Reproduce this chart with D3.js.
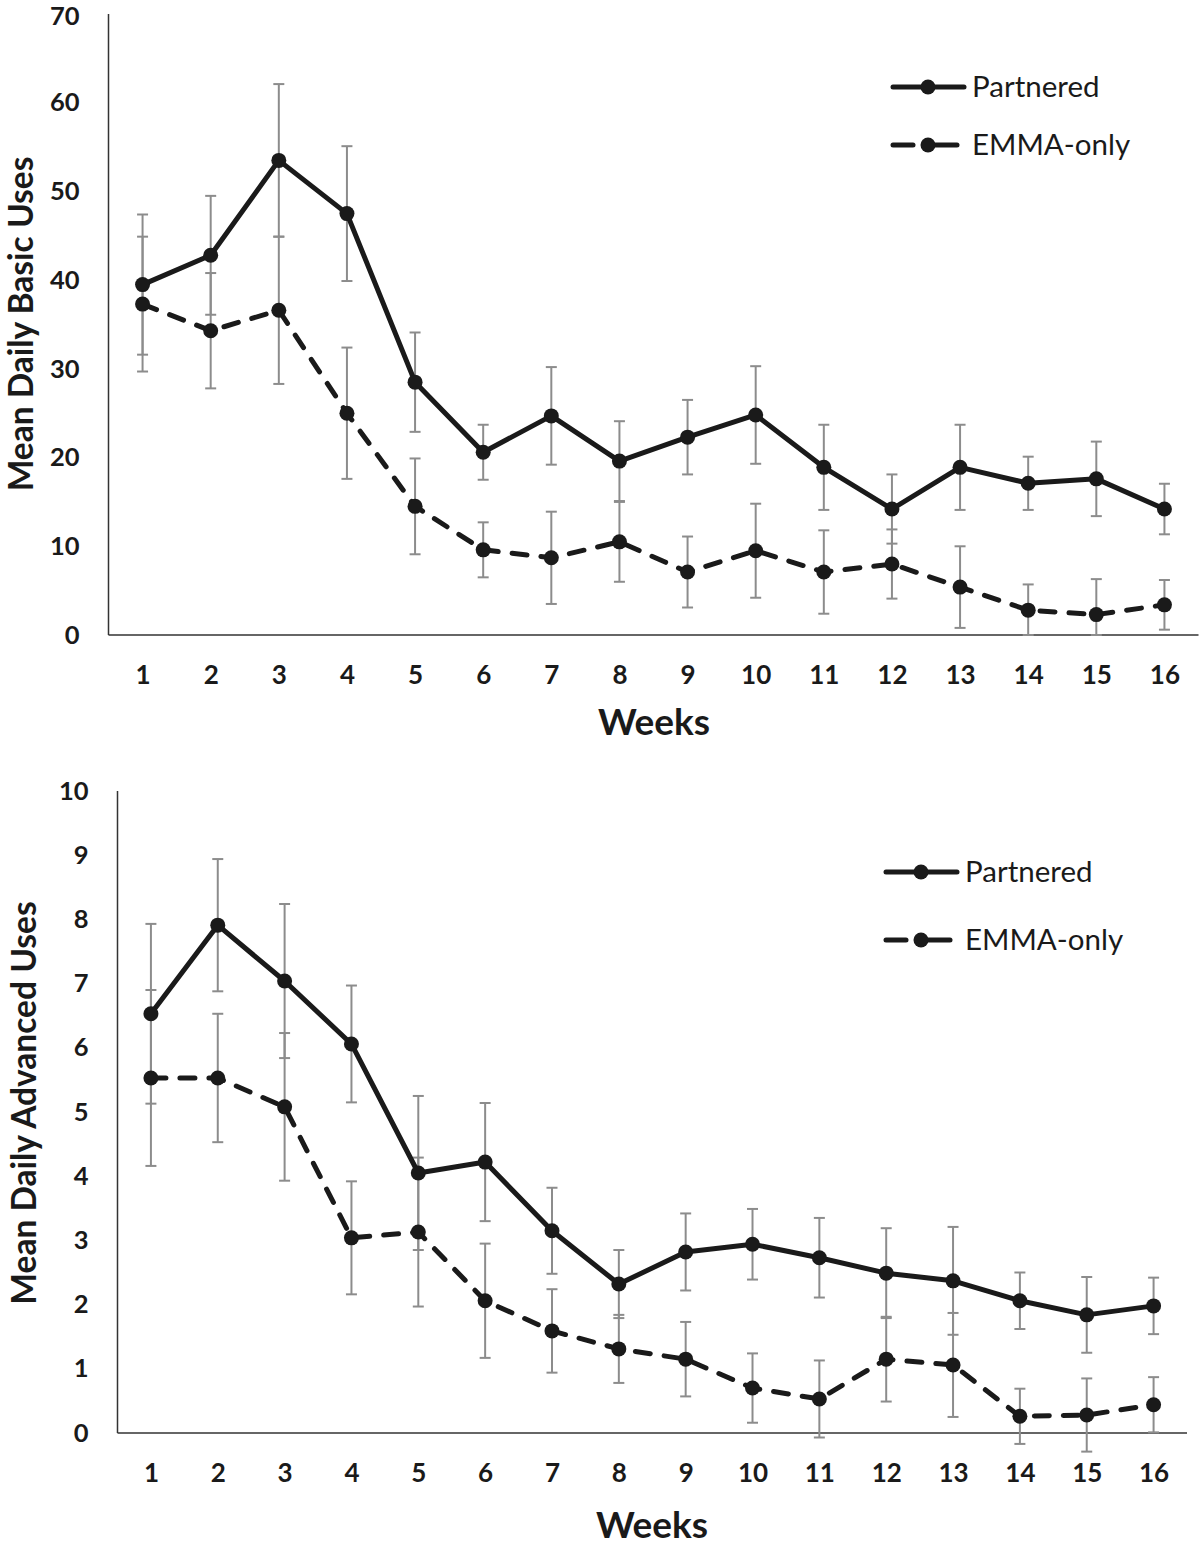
<!DOCTYPE html>
<html><head><meta charset="utf-8">
<script src="https://cdn.jsdelivr.net/npm/d3@7/dist/d3.min.js"></script>
<style>body{margin:0;background:#fff}svg{display:block}</style>
</head><body>
<svg id="c" width="1200" height="1546"></svg>
<script>
const weeks = ["1","2","3","4","5","6","7","8","9","10","11","12","13","14","15","16"];
const seriesNames = ["Partnered","EMMA-only"];

// Panel A: Mean Daily Basic Uses
const basicTicks = [0,10,20,30,40,50,60,70];
const basicPartnered = [39.5,42.8,53.5,47.5,28.5,20.6,24.7,19.6,22.3,24.8,18.9,14.2,18.9,17.1,17.6,14.2];
const basicPartneredErr = [7.9,6.7,8.6,7.6,5.6,3.1,5.5,4.5,4.2,5.5,4.8,3.9,4.8,3.0,4.2,2.85];
const basicEmma = [37.3,34.3,36.6,25.0,14.5,9.6,8.7,10.5,7.1,9.5,7.1,8.0,5.4,2.8,2.3,3.4];
const basicEmmaErr = [7.6,6.5,8.3,7.4,5.4,3.1,5.2,4.5,4.0,5.3,4.7,3.9,4.6,2.9,4.0,2.8];

// Panel B: Mean Daily Advanced Uses
const advTicks = [0,1,2,3,4,5,6,7,8,9,10];
const advPartnered = [6.53,7.91,7.04,6.06,4.05,4.22,3.15,2.32,2.82,2.94,2.73,2.49,2.37,2.06,1.84,1.98];
const advPartneredErr = [1.4,1.03,1.2,0.91,1.2,0.92,0.67,0.53,0.6,0.55,0.62,0.7,0.84,0.44,0.59,0.44];
const advEmma = [5.53,5.53,5.08,3.04,3.13,2.06,1.59,1.31,1.15,0.70,0.53,1.15,1.06,0.26,0.28,0.44];
const advEmmaErr = [1.37,1.0,1.15,0.88,1.16,0.89,0.65,0.53,0.58,0.54,0.6,0.66,0.81,0.43,0.57,0.43];

const svg = d3.select("#c");
const FONT = "Lato, 'Open Sans', sans-serif";
const INK = "#1a1a1a";

function panel(cfg){
  const g = svg.append("g");
  const x = d3.scalePoint().domain(weeks).range([cfg.x0, cfg.x1]).padding(0.5);
  const y = d3.scaleLinear().domain([0, cfg.ymax]).range([cfg.yb, cfg.yt]);

  // y axis
  const ya = g.append("g").attr("transform", `translate(${cfg.x0},0)`)
    .call(d3.axisLeft(y).tickValues(cfg.ticks).tickSize(0).tickPadding(29).tickFormat(d3.format("d")));
  ya.select(".domain").attr("stroke", "#333").attr("stroke-width", 1.5).attr("d", `M0,${cfg.yt}V${cfg.yb}`);
  ya.selectAll("text").attr("font-family", FONT).attr("font-weight", 700).attr("font-size", 25.5).attr("fill", INK)
    .attr("dy", d => (d === cfg.ymax && cfg.yt < 20) ? "0.42em" : "0.32em");

  // x axis
  const xa = g.append("g").attr("transform", `translate(0,${cfg.yb})`)
    .call(d3.axisBottom(x).tickSize(0).tickPadding(31));
  xa.select(".domain").attr("stroke", "#333").attr("stroke-width", 1.5).attr("d", `M${cfg.x0},0H${cfg.x1}`);
  xa.selectAll("text").attr("font-family", FONT).attr("font-weight", 700).attr("font-size", 26).attr("fill", INK);

  g.append("text").attr("x", cfg.wx).attr("y", cfg.wy).attr("text-anchor", "middle")
    .attr("font-family", FONT).attr("font-weight", 700).attr("font-size", 37).attr("fill", INK).text("Weeks");
  g.append("text").attr("transform", `translate(${cfg.tx},${cfg.ty}) rotate(-90)`).attr("text-anchor", "middle")
    .attr("font-family", FONT).attr("font-weight", 700).attr("font-size", cfg.tsize).attr("fill", INK).text(cfg.title);

  const series = [
    {vals: cfg.p, err: cfg.pe, dash: null},
    {vals: cfg.e, err: cfg.ee, dash: "15,14"}
  ];
  const lo = v => cfg.clip ? Math.max(0, v) : v;
  // error bars
  series.forEach(s => {
    const eb = g.append("g").attr("stroke", "#8c8c8c").attr("stroke-width", 2);
    weeks.forEach((w, i) => {
      const cx = x(w), t = y(s.vals[i] + s.err[i]), b = y(lo(s.vals[i] - s.err[i]));
      eb.append("line").attr("x1", cx).attr("x2", cx).attr("y1", t).attr("y2", b);
      eb.append("line").attr("x1", cx - 5.5).attr("x2", cx + 5.5).attr("y1", t).attr("y2", t);
      eb.append("line").attr("x1", cx - 5.5).attr("x2", cx + 5.5).attr("y1", b).attr("y2", b);
    });
  });
  const line = d3.line().x((d, i) => x(weeks[i])).y(d => y(d));
  series.forEach(s => {
    const p = g.append("path").attr("d", line(s.vals)).attr("fill", "none").attr("stroke", INK)
      .attr("stroke-width", 5).attr("stroke-linejoin", "round");
    if (s.dash) p.attr("stroke-dasharray", s.dash).attr("stroke-linecap", "round");
    g.selectAll(null).data(s.vals).enter().append("circle")
      .attr("cx", (d, i) => x(weeks[i])).attr("cy", d => y(d)).attr("r", 7.5).attr("fill", INK);
  });

  // legend
  const L = cfg.leg;
  [0, 1].forEach(k => {
    const ly = L.y[k];
    if (k === 0) {
      g.append("line").attr("x1", L.x).attr("x2", L.x + 71).attr("y1", ly).attr("y2", ly)
        .attr("stroke", INK).attr("stroke-width", 5).attr("stroke-linecap", "round");
    } else {
      g.append("line").attr("x1", L.x).attr("x2", L.x + 20).attr("y1", ly).attr("y2", ly)
        .attr("stroke", INK).attr("stroke-width", 5).attr("stroke-linecap", "round");
      g.append("line").attr("x1", L.x + 36).attr("x2", L.x + 64).attr("y1", ly).attr("y2", ly)
        .attr("stroke", INK).attr("stroke-width", 5).attr("stroke-linecap", "round");
    }
    g.append("circle").attr("cx", L.x + 35).attr("cy", ly).attr("r", 7.5).attr("fill", INK);
    g.append("text").attr("x", L.x + 79).attr("y", ly + 10).attr("font-family", FONT)
      .attr("font-size", 29.5).attr("fill", INK).text(seriesNames[k]);
  });
}

panel({x0:108.5, x1:1198.5, yt:14, yb:635, ymax:70, ticks:basicTicks,
  p:basicPartnered, pe:basicPartneredErr, e:basicEmma, ee:basicEmmaErr, clip:true,
  wx:654, wy:735, tx:33, ty:324, tsize:33.5, title:"Mean Daily Basic Uses",
  leg:{x:893, y:[87,145]}});
panel({x0:117.5, x1:1187, yt:791, yb:1433, ymax:10, ticks:advTicks,
  p:advPartnered, pe:advPartneredErr, e:advEmma, ee:advEmmaErr, clip:false,
  wx:652, wy:1538, tx:36, ty:1103, tsize:33.5, title:"Mean Daily Advanced Uses",
  leg:{x:886, y:[872,940]}});
</script>
</body></html>
